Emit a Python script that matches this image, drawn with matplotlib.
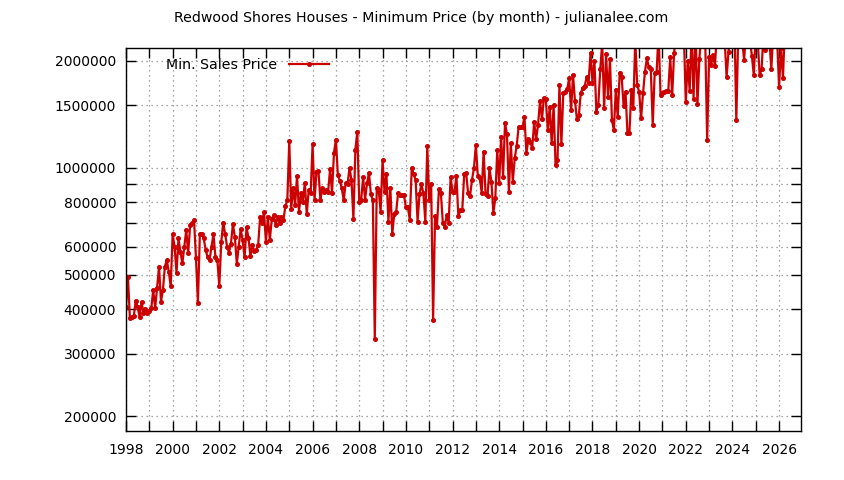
import matplotlib
matplotlib.use('Agg')
import matplotlib.pyplot as plt
import numpy as np
from matplotlib.ticker import FixedLocator, FuncFormatter, NullLocator

# monthly minimum sales price (thousands), Jan 1998 .. Apr 2026
p1998 = [405, 493, 378, 380, 382, 422, 405, 380, 418, 391, 401, 390]
p1999 = [395, 402, 453, 402, 460, 527, 420, 453, 527, 550, 510, 464]
p2000 = [651, 600, 506, 633, 580, 538, 600, 668, 574, 690, 698, 713]
p2001 = [557, 417, 652, 651, 633, 586, 560, 550, 600, 651, 562, 550]
p2002 = [464, 617, 701, 652, 600, 577, 612, 694, 640, 537, 600, 671]
p2003 = [627, 560, 680, 636, 565, 606, 584, 586, 606, 728, 698, 751]
p2004 = [617, 728, 627, 717, 735, 690, 728, 698, 728, 713, 781, 810]
p2005 = [1193, 768, 876, 786, 949, 751, 848, 802, 908, 741, 866, 848]
p2006 = [1168, 810, 975, 981, 812, 877, 857, 866, 857, 991, 852, 1103]
p2007 = [1200, 955, 920, 877, 810, 905, 900, 1000, 925, 717, 1122, 1265]
p2008 = [800, 814, 940, 814, 905, 968, 842, 810, 329, 877, 866, 751]
p2009 = [1052, 857, 958, 706, 877, 651, 741, 751, 852, 838, 838, 838]
p2010 = [774, 777, 713, 997, 960, 925, 706, 842, 900, 848, 706, 1152]
p2011 = [810, 900, 373, 730, 683, 870, 848, 701, 683, 735, 701, 940]
p2012 = [857, 857, 949, 730, 759, 759, 958, 968, 848, 832, 925, 997]
p2013 = [1160, 949, 934, 852, 1111, 842, 832, 997, 914, 746, 820, 1122]
p2014 = [905, 1224, 943, 1340, 1242, 857, 1172, 914, 1065, 1152, 1306, 1300]
p2015 = [1300, 1393, 1100, 1203, 1185, 1134, 1349, 1203, 1320, 1546, 1370, 1570]
p2016 = [1560, 1275, 1487, 1177, 1502, 1019, 1050, 1711, 1168, 1628, 1640, 1664]
p2017 = [1790, 1456, 1827, 1540, 1370, 1408, 1628, 1676, 1700, 1800, 1738, 2110]
p2018 = [1738, 2000, 1440, 1502, 1894, 2250, 1471, 2090, 1580, 2020, 1364, 1275]
p2019 = [1660, 1387, 1855, 1808, 1494, 1640, 1251, 1251, 1660, 1471, 2300, 1711]
p2020 = [1640, 1378, 1620, 1866, 2035, 1920, 1895, 1320, 1845, 1866, 2400, 1608]
p2021 = [1620, 1635, 1645, 1650, 2050, 1600, 2110, 2400, 2600, 2300, 2500, 2400]
p2022 = [1530, 2000, 1650, 2400, 1565, 2500, 1510, 2030, 2400, 2600, 2300, 1195]
p2023 = [2050, 1945, 2080, 1935, 2400, 2300, 2500, 2400, 2300, 1800, 2120, 2500]
p2024 = [2400, 2600, 1360, 2400, 2600, 2300, 2010, 2400, 2500, 2300, 2070, 1820]
p2025 = [2400, 2300, 1820, 1895, 2400, 2150, 2500, 2300, 1900, 2400, 2500, 2300]
p2026 = [1690, 2180, 1790, 2500]

prices = (p1998 + p1999 + p2000 + p2001 + p2002 + p2003 + p2004 + p2005 + p2006
          + p2007 + p2008 + p2009 + p2010 + p2011 + p2012 + p2013 + p2014 + p2015
          + p2016 + p2017 + p2018 + p2019 + p2020 + p2021 + p2022 + p2023 + p2024
          + p2025 + p2026)
prices = np.array(prices) * 1000
months = 1998 + np.arange(len(prices)) / 12.0

ytick_vals = [200000, 300000, 400000, 500000, 600000, 700000, 800000, 900000,
              1000000, 1500000, 2000000]
ytick_labels = ['200000', '300000', '400000', '500000', '600000', '', '800000', '',
                '1000000', '1500000', '2000000']
xtick_years = list(range(1998, 2027))

plt.rcParams['font.family'] = ['DejaVu Sans']

fig = plt.figure(figsize=(8.44, 4.8), dpi=100)
ax = fig.add_axes([126 / 844, 1 - 431 / 480, 675 / 844, 383 / 480])

ax.plot(months, prices, '-o', color='#cc0000', lw=1.6, ms=2.6,
        label='Min. Sales Price')

ax.set_yscale('log')
ax.set_ylim(181500, 2175000)
ax.set_xlim(1998, 2026.94)

ax.yaxis.set_major_locator(FixedLocator(ytick_vals))
ax.yaxis.set_major_formatter(FuncFormatter(
    lambda v, pos: ytick_labels[pos] if pos is not None and pos < len(ytick_labels) else ''))
ax.yaxis.set_minor_locator(NullLocator())

ax.xaxis.set_major_locator(FixedLocator(xtick_years))
ax.xaxis.set_major_formatter(FuncFormatter(
    lambda v, pos: str(int(round(v))) if int(round(v)) % 2 == 0 else ''))

ax.tick_params(axis='both', which='major', direction='in', length=7, width=1,
               top=True, right=True, labelsize=10, colors='black')
ax.tick_params(axis='x', pad=9)
ax.tick_params(axis='y', pad=7)

ax.grid(True, which='major', color='#888888', linestyle=(0, (1, 3)), linewidth=0.9)
for s in ax.spines.values():
    s.set_linewidth(1.0)
    s.set_color('black')

ax.legend(loc='upper left', bbox_to_anchor=(0.045, 1.0), frameon=False,
          markerfirst=False, fontsize=10.2, handlelength=2.8,
          handletextpad=0.85, borderaxespad=0.3)

fig.text(421 / 844, 1 - 18 / 480,
         'Redwood Shores Houses - Minimum Price (by month) - julianalee.com',
         ha='center', va='center', fontsize=10.2)

fig.savefig('out.png', dpi=100)
